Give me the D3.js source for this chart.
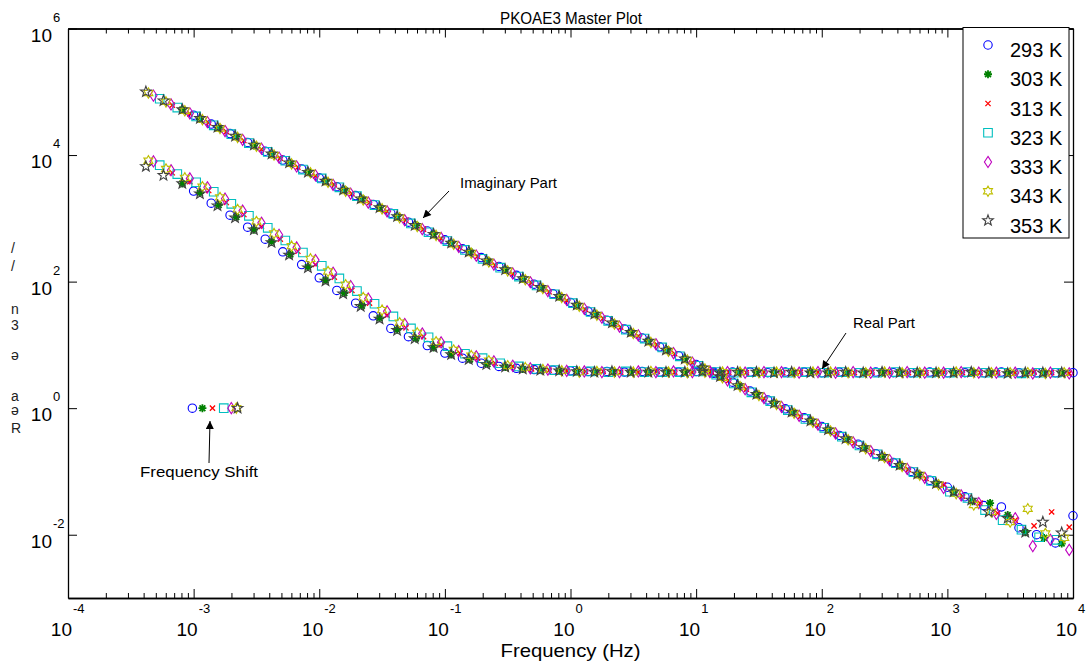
<!DOCTYPE html>
<html>
<head>
<meta charset="utf-8">
<script src="https://cdn.jsdelivr.net/npm/d3@7"></script>
<style>
  body { margin: 0; background: #fff; }
  svg { display: block; font-family: "Liberation Sans", Arial, sans-serif; }
</style>
</head>
<body>
<div id="graph"></div>
<script>
// series meta
var seriesNames   = ['293 K', '303 K', '313 K', '323 K', '333 K', '343 K', '353 K']
var seriesColors  = ['#0000ff', '#008000', '#ff0000', '#00bfbf', '#bf00bf', '#bfbf00', '#404040']
var seriesSymbols = ['circle', 'asterisk', 'cross', 'square', 'diamond', 'hexagram', 'pentagram']

// log10 of the first (shifted) frequency of each series
var startLogF = [-3.00, -3.09, -3.17, -3.27, -3.32, -3.36, -3.38]
// measurement grid, decades above the first frequency
var gridDecades = [0.00,0.14,0.29,0.43,0.57,0.71,0.86,1.00,1.14,1.29,1.43,1.57,1.71,1.86,2.00,2.14,2.29,2.43,2.57,2.71,
  2.86,3.00,3.14,3.29,3.43,3.57,3.71,3.86,4.00,4.14,4.29,4.43,4.57,4.71,4.86,5.00,5.14,5.29,5.43,5.57,
  5.71,5.86,6.00,6.14,6.29,6.43,6.57,6.71,6.86,7.00,7.14,7.29]

// log10 of the real part
var re293 = [3.43,3.24,3.05,2.86,2.67,2.47,2.27,2.06,1.86,1.66,1.46,1.26,1.13,0.99,0.87,0.79,0.71,0.66,0.63,0.61,0.60,0.59,
  0.58,0.58,0.57,0.58,0.57,0.57,0.58,0.57,0.57,0.57,0.56,0.57,0.57,0.56,0.57,0.56,0.57,0.56,0.56,0.57,0.56,0.56,0.56,0.57,0.56,0.56,0.56,0.56]
var re303 = [3.55,3.40,3.21,3.02,2.82,2.63,2.43,2.23,2.02,1.82,1.62,1.42,1.24,1.10,0.96,0.85,0.77,0.70,0.65,0.62,0.60,0.59,
  0.58,0.57,0.58,0.57,0.57,0.58,0.57,0.57,0.56,0.57,0.57,0.57,0.56,0.57,0.56,0.56,0.57,0.56,0.57,0.56,0.56,0.56,0.57,0.56,0.56,0.55,0.56,0.56]
var re313 = [3.72,3.58,3.44,3.25,3.06,2.87,2.67,2.48,2.27,2.07,1.86,1.66,1.47,1.27,1.13,1.00,0.87,0.79,0.71,0.66,0.62,0.60,0.59,
  0.58,0.58,0.57,0.57,0.58,0.57,0.57,0.57,0.57,0.56,0.57,0.56,0.57,0.57,0.56,0.56,0.57,0.56,0.56,0.56,0.57,0.56,0.56,0.56,0.56,0.57,0.56,0.55]
var re323 = [3.84,3.70,3.57,3.42,3.23,3.04,2.85,2.65,2.46,2.25,2.05,1.85,1.65,1.45,1.26,1.12,0.98,0.86,0.79,0.71,0.66,0.62,0.60,0.59,
  0.58,0.57,0.58,0.57,0.57,0.57,0.58,0.57,0.56,0.57,0.57,0.56,0.57,0.56,0.57,0.56,0.56,0.57,0.56,0.56,0.56,0.57,0.56,0.56,0.55,0.56,0.56]
var re333 = [3.90,3.76,3.63,3.49,3.31,3.12,2.93,2.74,2.54,2.34,2.14,1.93,1.73,1.53,1.33,1.18,1.04,0.90,0.82,0.74,0.67,0.63,0.61,0.59,
  0.58,0.57,0.57,0.58,0.57,0.58,0.57,0.57,0.57,0.56,0.57,0.57,0.56,0.57,0.56,0.57,0.56,0.56,0.57,0.56,0.56,0.57,0.56,0.56,0.56,0.55,0.56,0.55]
var re343 = [3.91,3.78,3.64,3.50,3.33,3.14,2.95,2.76,2.56,2.36,2.16,1.95,1.75,1.55,1.35,1.19,1.05,0.92,0.83,0.75,0.67,0.64,0.61,0.59,
  0.57,0.58,0.57,0.57,0.58,0.57,0.56,0.57,0.57,0.57,0.56,0.57,0.56,0.57,0.57,0.56,0.56,0.57,0.56,0.56,0.56,0.57,0.56,0.56,0.56,0.56,0.55,0.56]
var re353 = [3.82,3.68,3.55,3.39,3.20,3.01,2.82,2.62,2.42,2.22,2.01,1.81,1.61,1.41,1.23,1.10,0.96,0.85,0.77,0.69,0.65,0.62,0.60,0.59,
  0.58,0.57,0.58,0.57,0.57,0.57,0.57,0.58,0.56,0.57,0.57,0.56,0.57,0.56,0.56,0.57,0.56,0.57,0.56,0.56,0.56,0.56,0.57,0.56,0.55,0.56,0.56,0.56]

// log10 of the imaginary part
var im293 = [4.63,4.49,4.34,4.20,4.06,3.92,3.78,3.64,3.50,3.36,3.22,3.08,2.94,2.80,2.66,2.52,2.38,2.24,2.10,1.96,
  1.81,1.67,1.53,1.39,1.25,1.11,0.97,0.83,0.69,0.55,0.41,0.27,0.13,-0.01,-0.15,-0.29,-0.43,-0.57,-0.72,-0.86,
  -1.00,-1.14,-1.25,-1.40,-1.54,-1.56,-1.89,-2.00,-2.13,-1.70]
var im303 = [4.72,4.57,4.43,4.29,4.15,4.01,3.87,3.73,3.59,3.45,3.31,3.17,3.03,2.89,2.75,2.61,2.47,2.33,2.19,2.04,
  1.90,1.76,1.62,1.48,1.34,1.20,1.06,0.92,0.78,0.64,0.50,0.36,0.22,0.08,-0.06,-0.20,-0.34,-0.49,-0.63,-0.77,
  -0.91,-1.05,-1.19,-1.33,-1.47,-1.50,-1.69,-1.96,-2.05,-2.14]
var im313 = [4.79,4.65,4.51,4.37,4.23,4.09,3.95,3.81,3.67,3.53,3.39,3.25,3.11,2.97,2.83,2.68,2.54,2.40,2.26,2.12,
  1.98,1.84,1.70,1.56,1.42,1.28,1.14,1.00,0.86,0.72,0.58,0.44,0.30,0.15,0.01,-0.13,-0.27,-0.41,-0.55,-0.69,
  -0.83,-0.97,-1.11,-1.21,-1.39,-1.50,-1.66,-1.77,-1.86,-1.64,-1.88]
var im323 = [4.89,4.75,4.61,4.47,4.33,4.19,4.05,3.91,3.77,3.63,3.49,3.35,3.21,3.07,2.92,2.78,2.64,2.50,2.36,2.22,
  2.08,1.94,1.80,1.66,1.52,1.38,1.24,1.10,0.96,0.82,0.67,0.53,0.39,0.25,0.11,-0.03,-0.17,-0.31,-0.45,-0.59,
  -0.73,-0.87,-1.01,-1.15,-1.32,-1.42,-1.61,-1.77,-1.92,-2.04,-2.08]
var im333 = [4.94,4.80,4.66,4.52,4.38,4.24,4.10,3.96,3.82,3.68,3.53,3.39,3.25,3.11,2.97,2.83,2.69,2.55,2.41,2.27,
  2.13,1.99,1.85,1.71,1.57,1.43,1.29,1.15,1.01,0.87,0.72,0.58,0.44,0.30,0.16,0.02,-0.12,-0.26,-0.40,-0.54,
  -0.68,-0.82,-0.96,-1.10,-1.26,-1.38,-1.50,-1.67,-1.74,-2.18,-2.08,-2.24]
var im343 = [4.98,4.84,4.70,4.56,4.42,4.28,4.14,4.00,3.86,3.72,3.57,3.43,3.29,3.15,3.01,2.87,2.73,2.59,2.45,2.31,
  2.17,2.03,1.89,1.75,1.61,1.47,1.33,1.18,1.04,0.90,0.76,0.62,0.48,0.34,0.20,0.06,-0.08,-0.22,-0.36,-0.50,
  -0.64,-0.78,-0.92,-1.06,-1.21,-1.35,-1.53,-1.64,-1.80,-1.59,-1.98,-2.05]
var im353 = [5.00,4.86,4.72,4.58,4.44,4.30,4.16,4.02,3.88,3.73,3.59,3.45,3.31,3.17,3.03,2.89,2.75,2.61,2.47,2.33,
  2.19,2.05,1.91,1.77,1.63,1.49,1.35,1.20,1.06,0.92,0.78,0.64,0.50,0.36,0.22,0.08,-0.06,-0.20,-0.34,-0.48,
  -0.62,-0.76,-0.90,-1.04,-1.19,-1.32,-1.45,-1.64,-1.74,-1.96,-1.80,-1.97]

var realLog = [re293, re303, re313, re323, re333, re343, re353]
var imagLog = [im293, im303, im313, im323, im333, im343, im353]

// the "Frequency Shift" markers, log10 f at M = 1
var shiftLogF = [-3.01, -2.93, -2.85, -2.76, -2.70, -2.66, -2.65]

// ticks
var xTickExp = [-4, -3, -2, -1, 0, 1, 2, 3, 4]
var yTickExp = [-2, 0, 2, 4, 6]

// the clipped y label at the left edge
var yLabelGlyphs = [['/', 253], ['/', 271], ['n', 314], ['3', 330], ['\u0259', 360], ['a', 401], ['\u0259', 415], ['R', 433]]

var W = 1086, H = 661

var svg = d3.select('#graph').html('')
  .append('svg')
  .attr('width', W)
  .attr('height', H)

svg.append('rect').attr('width', W).attr('height', H).attr('fill', '#fff')

var x = d3.scaleLog().domain([1e-4, 1e4]).range([68, 1073])
var y = d3.scaleLog().domain([1e-3, 1e6]).range([598, 28.5])

var xMajor = xTickExp.map(e => Math.pow(10, e))
var yMajor = yTickExp.map(e => Math.pow(10, e))
var xMinor = x.ticks().filter(v => xMajor.indexOf(v) < 0)

/*
  axes box and ticks
*/
var axG = svg.append('g')

function styleAxis(g) {
  g.select('.domain').attr('stroke', '#000').attr('stroke-width', 1.3)
  g.selectAll('.tick line').attr('stroke', '#000').attr('stroke-width', 1)
  g.selectAll('.tick text').remove()
}

axG.append('g').attr('transform', 'translate(0,598)')
  .call(d3.axisBottom(x).tickValues(xMinor).tickSize(-5).tickSizeOuter(0)).call(styleAxis)
axG.append('g').attr('transform', 'translate(0,598)')
  .call(d3.axisBottom(x).tickValues(xMajor).tickSize(-9).tickSizeOuter(0)).call(styleAxis)
axG.append('g').attr('transform', 'translate(0,28.5)')
  .call(d3.axisTop(x).tickValues(xMinor).tickSize(-5).tickSizeOuter(0)).call(styleAxis)
axG.append('g').attr('transform', 'translate(0,28.5)')
  .call(d3.axisTop(x).tickValues(xMajor).tickSize(-9).tickSizeOuter(0)).call(styleAxis)
axG.append('g').attr('transform', 'translate(68,0)')
  .call(d3.axisLeft(y).tickValues(yMajor).tickSize(-9).tickSizeOuter(0)).call(styleAxis)
axG.append('g').attr('transform', 'translate(1073,0)')
  .call(d3.axisRight(y).tickValues(yMajor).tickSize(-9).tickSizeOuter(0)).call(styleAxis)

// tick labels as 10 with a superscript
var lab = svg.append('g').attr('fill', '#000')
xTickExp.forEach(e => {
  var px = x(Math.pow(10, e))
  lab.append('text').attr('x', px + 4).attr('y', 636).attr('text-anchor', 'end')
    .attr('font-size', 19).text('10')
  lab.append('text').attr('x', px + 5).attr('y', 613).attr('font-size', 13).text(String(e))
})
yTickExp.forEach(e => {
  var py = y(Math.pow(10, e))
  lab.append('text').attr('x', 52).attr('y', py + 13).attr('text-anchor', 'end')
    .attr('font-size', 19).text('10')
  lab.append('text').attr('x', 53).attr('y', py - 7).attr('font-size', 13).text(String(e))
})

lab.append('text').attr('x', 570.5).attr('y', 657).attr('text-anchor', 'middle')
  .attr('font-size', 18.5).attr('textLength', 140).attr('lengthAdjust', 'spacingAndGlyphs')
  .text('Frequency (Hz)')

lab.append('text').attr('x', 571).attr('y', 24).attr('text-anchor', 'middle')
  .attr('font-size', 16).attr('textLength', 142).attr('lengthAdjust', 'spacingAndGlyphs')
  .text('PKOAE3 Master Plot')

lab.selectAll('text.ylab').data(yLabelGlyphs).join('text')
  .attr('class', 'ylab')
  .attr('x', 11).attr('y', d => d[1])
  .attr('font-size', 14).attr('fill', '#222')
  .text(d => d[0])

/*
  markers
*/
function starPath(n, ro, ri) {
  var pts = []
  for (var i = 0; i < 2 * n; i++) {
    var a = -Math.PI / 2 + i * Math.PI / n
    var r = i % 2 ? ri : ro
    pts.push([r * Math.cos(a), r * Math.sin(a)])
  }
  return 'M' + pts.map(p => p[0].toFixed(2) + ',' + p[1].toFixed(2)).join('L') + 'Z'
}

var symbolPaths = {
  circle: 'M4.2,0A4.2,4.2 0 1,1 -4.2,0A4.2,4.2 0 1,1 4.2,0Z',
  asterisk: 'M0,-4V4M-4,0H4M-2.9,-2.9L2.9,2.9M-2.9,2.9L2.9,-2.9',
  cross: 'M-2.6,-2.6L2.6,2.6M-2.6,2.6L2.6,-2.6',
  square: 'M-4.3,-4.3H4.3V4.3H-4.3Z',
  diamond: 'M0,-5.6L3.6,0L0,5.6L-3.6,0Z',
  hexagram: starPath(6, 5.2, 3.0),
  pentagram: starPath(5, 5.6, 2.3)
}
var symbolWidth = { circle: 1.1, asterisk: 1.8, cross: 1.3, square: 1.1, diamond: 1.1, hexagram: 1.1, pentagram: 1.1 }

var markG = svg.append('g')

seriesNames.forEach((name, s) => {
  var pts = []
  realLog[s].forEach((v, k) => pts.push({ f: Math.pow(10, startLogF[s] + gridDecades[k]), m: Math.pow(10, v) }))
  imagLog[s].forEach((v, k) => pts.push({ f: Math.pow(10, startLogF[s] + gridDecades[k]), m: Math.pow(10, v) }))
  pts.push({ f: Math.pow(10, shiftLogF[s]), m: 1 })

  markG.append('g').selectAll('path').data(pts).join('path')
    .attr('d', symbolPaths[seriesSymbols[s]])
    .attr('transform', d => 'translate(' + x(d.f) + ',' + y(d.m) + ')')
    .attr('fill', 'none')
    .attr('stroke', seriesColors[s])
    .attr('stroke-width', symbolWidth[seriesSymbols[s]])
})

/*
  annotations
*/
svg.append('defs').append('marker')
  .attr('id', 'ah')
  .attr('viewBox', '0 0 10 10')
  .attr('refX', 10).attr('refY', 5)
  .attr('markerWidth', 11).attr('markerHeight', 8)
  .attr('markerUnits', 'userSpaceOnUse')
  .attr('orient', 'auto')
  .append('path').attr('d', 'M0,0L10,5L0,10Z').attr('fill', '#000')

var annG = svg.append('g')
var annotations = [
  { text: 'Imaginary Part', tx: 460, ty: 188, w: 97, from: [449, 191], to: [423, 218] },
  { text: 'Real Part', tx: 853, ty: 328, w: 62, from: [846, 333], to: [822, 369] },
  { text: 'Frequency Shift', tx: 140, ty: 477, w: 118, from: [209, 463], to: [210, 421] }
]
annotations.forEach(a => {
  annG.append('text').attr('x', a.tx).attr('y', a.ty).attr('font-size', 15)
    .attr('textLength', a.w).attr('lengthAdjust', 'spacingAndGlyphs').text(a.text)
  annG.append('line')
    .attr('x1', a.from[0]).attr('y1', a.from[1]).attr('x2', a.to[0]).attr('y2', a.to[1])
    .attr('stroke', '#000').attr('stroke-width', 1).attr('marker-end', 'url(#ah)')
})

/*
  legend
*/
var leg = svg.append('g')
leg.append('rect')
  .attr('x', 963).attr('y', 27.5).attr('width', 106).attr('height', 210.5)
  .attr('fill', '#fff').attr('stroke', '#000').attr('stroke-width', 1)

seriesNames.forEach((name, i) => {
  var my = 45 + i * 29.25
  leg.append('path')
    .attr('d', symbolPaths[seriesSymbols[i]])
    .attr('transform', 'translate(988,' + my + ')')
    .attr('fill', 'none').attr('stroke', seriesColors[i])
    .attr('stroke-width', symbolWidth[seriesSymbols[i]])
  leg.append('text').attr('x', 1010).attr('y', my + 12).attr('font-size', 20).text(name)
})
</script>
</body>
</html>
